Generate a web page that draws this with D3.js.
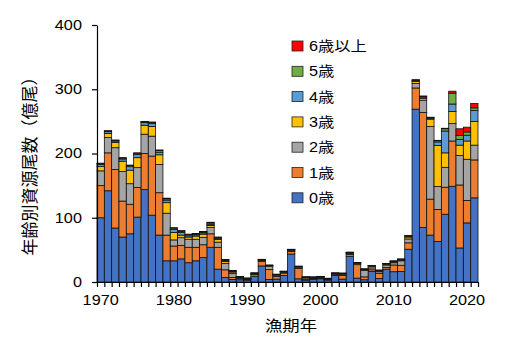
<!DOCTYPE html>
<html><head><meta charset="utf-8">
<script src="https://cdn.jsdelivr.net/npm/d3@7"></script>
<style>
body{margin:0;background:#fff;}
svg{display:block;}
text{font-family:"Liberation Sans",Arial,"Noto Sans CJK JP",sans-serif;}
</style></head>
<body><svg id="c" width="508" height="356"></svg>
<script>
const years = d3.range(1970, 2022);
const ageLabels = ["0歳","1歳","2歳","3歳","4歳","5歳","6歳以上"];
const ageColors = ["#4472C4","#ED7D31","#A5A5A5","#FFC000","#5B9BD5","#70AD47","#FF0000"];
const yTicks = [0,100,200,300,400];
const xLabelYears = [1970,1980,1990,2000,2010,2020];

const age0 = [100,142,84,70,75,101,144,104,73,33,33,36,30,33,38,54,20,7,4,3.5,3,9,25,4,4.5,10,43.5,5,3,4,5,3,10,4.5,40,6,3.5,16.5,5.5,20,16,16.5,51,269,85,73,63,105.5,149,53,92,131];
const age1 = [50,59,91,56,46,46,56,92,66,40,23,21,24,21,20,21,34,12,3,2,1,2.5,7,15.5,4,4,4,16,1.7,1.5,1.5,1,2,5.5,3,21,4.5,2.5,8,2.5,10.5,9.5,10,33,179,56,50,42,70.5,98,35,59];
const age2 = [23,24,34,46,32,31,30,31,44,34,9.5,12,12.5,12.5,11.5,10,8,10,6,1.5,1,1.5,1.5,5,2,1.5,1.5,2,2,1,1,0.7,1,2,1.5,2,10,3,2.5,4,3.5,7,6,7,19,113,35.5,31,27,46,64,23];
const age3 = [7,6,8,16,21,15.5,14,15,15,16.5,11.5,4,3.5,5,5,3,4,3,2.5,0.7,0.5,0.5,1,1,1,0.7,1,1,0.7,0.7,0.7,0.5,0.5,1,1,0.8,1.5,2.5,1.5,1.5,1.5,1.5,3,3,3,11.5,64,22.5,19,16,28.5,37];
const age4 = [3,3,2.5,3.5,5.5,5,4,4.5,4,4,5,4,2,2,2,2,2,1.5,1,0.5,0.3,0.3,0.5,0.5,0.3,0.3,0.5,0.3,0.3,0.3,0.3,0.3,0.3,0.5,0.5,0.4,0.5,0.8,0.6,0.6,0.8,0.8,1.5,1.5,2,1.5,5.5,34,11.5,9,9,17];
const age5 = [1.5,1,1,1.5,2,2,1.5,2,2.5,2,2,2,2,1.5,1.5,2,1.5,1,1,0.2,0.2,0.2,0.2,0.2,0.2,0.2,0.3,0.2,0.2,0.2,0.2,0.2,0.2,0.2,0.3,0.2,0.3,0.3,0.3,0.3,0.4,0.4,0.5,1,1,1,2,3.5,17,6,5,4];
const age6 = [0.5,0.5,0.5,0.5,0.5,0.5,0.5,0.5,1,1,0.5,1,0.5,0.5,0.5,1,0.5,0.5,0.3,0.1,0.1,0.1,0.1,0.1,0.1,0.1,0.1,0.1,0.1,0.1,0.1,0.1,0.1,0.1,0.1,0.1,0.1,0.1,0.1,0.1,0.1,0.1,0.2,0.3,0.5,0.5,0.5,0.8,3,10.5,7.5,7];

const series = [age0,age1,age2,age3,age4,age5,age6];
const table = years.map((yr,i)=>{ const o={year:yr}; series.forEach((s,k)=>o["a"+k]=s[i]); return o; });
const keys = series.map((s,k)=>"a"+k);

const svg = d3.select("#c");
const L=97, R=478, T=25, B=282, SX=1.16;
const x = d3.scaleBand().domain(years).range([L,R]).padding(0);
const xl = d3.scaleLinear().domain([1969.5,2021.5]).range([L,R]);
const y = d3.scaleLinear().domain([0,400]).range([B,T]);

const stacked = d3.stack().keys(keys)(table);
svg.append("g").selectAll("g").data(stacked).join("g")
  .attr("fill",(d,i)=>ageColors[i])
  .selectAll("rect").data(d=>d).join("rect")
  .attr("x",d=>x(d.data.year))
  .attr("width",x.bandwidth())
  .attr("y",d=>y(d[1]))
  .attr("height",d=>Math.max(0,y(d[0])-y(d[1])))
  .attr("stroke","#111").attr("stroke-width",0.8);

// y axis
const ya = svg.append("g").attr("transform",`translate(${L},0)`)
  .call(d3.axisLeft(y).tickValues(yTicks).tickSize(5).tickPadding(8).tickSizeOuter(0));
ya.select(".domain").attr("stroke","#000").attr("stroke-width",1.2);
ya.selectAll("line").attr("stroke","#000").attr("stroke-width",1.2);
ya.selectAll("text").attr("font-size",14).attr("fill","#000").attr("transform",`scale(${SX},1)`);

// x axis ticks at bar boundaries
const xt = svg.append("g").attr("transform",`translate(0,${B})`)
  .call(d3.axisBottom(xl).tickValues(d3.range(1969.5,2022,1)).tickSize(5).tickSizeOuter(0).tickFormat(""));
xt.select(".domain").attr("stroke","#000").attr("stroke-width",1.2);
xt.selectAll("line").attr("stroke","#000").attr("stroke-width",1.2);
// x labels
const xa = svg.append("g").attr("transform",`translate(0,${B})`)
  .call(d3.axisBottom(x).tickValues(xLabelYears).tickSize(0).tickPadding(13));
xa.select(".domain").remove();
xa.selectAll("text").attr("font-size",14).attr("fill","#000").attr("transform",`scale(${SX},1)`)
  .attr("x",function(d){return 0;});
xa.selectAll(".tick").attr("transform",d=>`translate(${(x(d)+x.bandwidth()/2)},0)`);

// legend
const legOrder = [6,5,4,3,2,1,0];
const lg = svg.append("g");
legOrder.forEach((k,j)=>{
  const cy = 46 + j*25.3;
  lg.append("rect").attr("x",292).attr("y",cy-5).attr("width",11).attr("height",10)
    .attr("fill",ageColors[k]).attr("stroke","#222").attr("stroke-width",0.8);
  lg.append("text").attr("transform",`translate(309,${cy+5}) scale(${SX},1)`)
    .attr("font-size",14).attr("fill","#000").text(ageLabels[k]);
});

// axis titles
svg.append("text").attr("transform",`translate(291,331) scale(${SX},1)`)
  .attr("text-anchor","middle").attr("font-size",15).attr("fill","#000").text("漁期年");
svg.append("text").attr("transform",`translate(36,162) rotate(-90)`)
  .attr("text-anchor","middle").attr("font-size",17).attr("fill","#000").text("年齢別資源尾数（億尾）");
</script></body></html>
